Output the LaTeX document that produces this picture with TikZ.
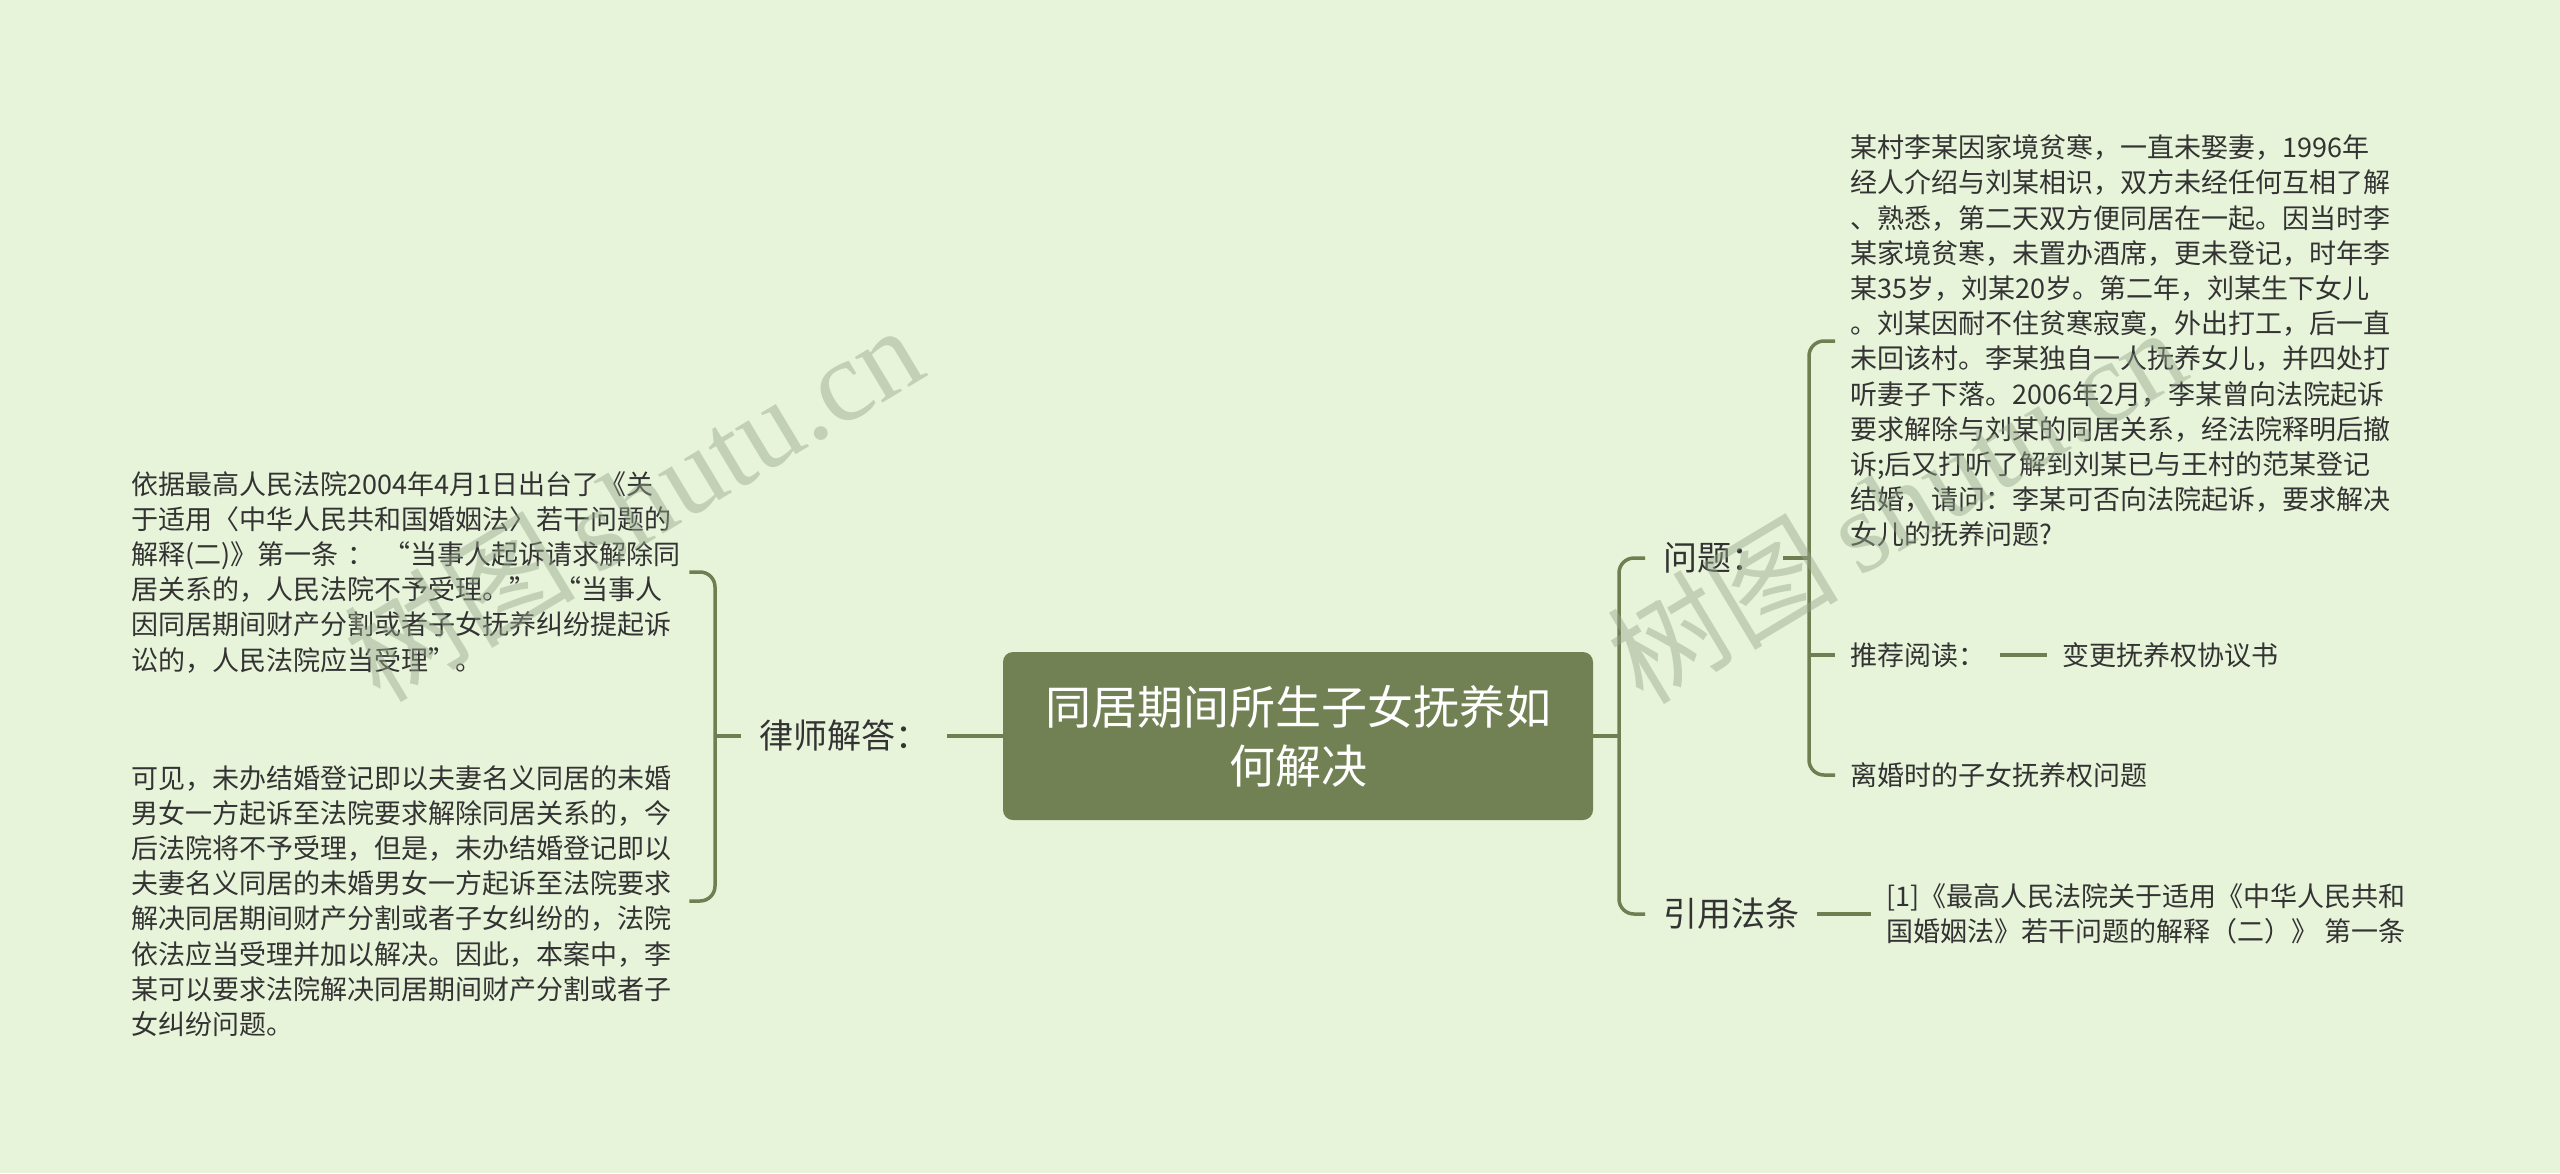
\documentclass[tikz,border=0pt]{standalone}
\usepackage{fontspec}
\setmainfont{Noto Sans CJK SC}
\newfontfamily\wmlatin{Liberation Serif}
\definecolor{bg}{HTML}{E7F4DA}
\definecolor{olive}{HTML}{728154}
\definecolor{lineol}{HTML}{6F7F52}
\definecolor{txt}{HTML}{333333}
\definecolor{wmc}{RGB}{150,165,140}
\begin{document}
\begin{tikzpicture}[x=1pt,y=-1pt,
  conn/.style={draw=lineol, line width=3.5pt, rounded corners=15pt},
  body/.style={font=\fontsize{27}{35.2}\selectfont, text=txt, align=left, inner ysep=0pt},
  leaf/.style={body, inner xsep=15pt, anchor=west},
  lab/.style={font=\fontsize{34}{40}\selectfont, text=txt, inner xsep=18pt, inner ysep=0pt, anchor=west},
  rootbox/.style={fill=olive, rounded corners=10pt, minimum width=590pt, minimum height=168pt,
    text=white, align=center, font=\fontsize{46}{59}\selectfont, inner sep=0pt},
  wm/.style={text=wmc, opacity=0.45, font=\fontsize{116}{116}\selectfont, inner sep=0pt, anchor=base west, rotate=31}]
\fill[bg] (0,0) rectangle (2560,1173);
\useasboundingbox (0,0) rectangle (2560,1173);

% root
\node[rootbox] (root) at (1298,736) {同居期间所生子女抚养如\\何解决};

% left branch
\node[lab] (lawyer) at (741,736) {律师解答：};
\node[body, text width=558pt, inner xsep=0pt, anchor=west] (a1) at (131,572)
 {依据最高人民法院2004年4月1日出台了《关\\
  于适用〈中华人民共和国婚姻法〉若干问题的\\
  解释(二)》第一条 ： “当事人起诉请求解除同\\
  居关系的，人民法院不予受理。”\ \ “当事人\\
  因同居期间财产分割或者子女抚养纠纷提起诉\\
  讼的，人民法院应当受理”。};
\node[body, text width=558pt, inner xsep=0pt, anchor=west] (a2) at (131,901)
 {可见，未办结婚登记即以夫妻名义同居的未婚\\
  男女一方起诉至法院要求解除同居关系的，今\\
  后法院将不予受理，但是，未办结婚登记即以\\
  夫妻名义同居的未婚男女一方起诉至法院要求\\
  解决同居期间财产分割或者子女纠纷的，法院\\
  依法应当受理并加以解决。因此，本案中，李\\
  某可以要求法院解决同居期间财产分割或者子\\
  女纠纷问题。};
\coordinate (jl) at (715,736);
\draw[conn] (root.west) -- (lawyer.east);
\draw[conn] (lawyer.west) -- (jl);
\draw[conn] (a1.east) -- (715,572) -- (715,901) -- (a2.east);

% right branch
\node[lab] (q) at (1645,558) {问题：};
\node[lab] (cite) at (1645,914) {引用法条};
\coordinate (jr) at (1619,736);
\draw[conn] (root.east) -- (jr);
\draw[conn] (q.west) -- (1619,558) -- (1619,914) -- (cite.west);

\node[leaf] (prob) at (1835,341)
 {某村李某因家境贫寒，一直未娶妻，1996年\\
  经人介绍与刘某相识，双方未经任何互相了解\\
  、熟悉，第二天双方便同居在一起。因当时李\\
  某家境贫寒，未置办酒席，更未登记，时年李\\
  某35岁，刘某20岁。第二年，刘某生下女儿\\
  。刘某因耐不住贫寒寂寞，外出打工，后一直\\
  未回该村。李某独自一人抚养女儿，并四处打\\
  听妻子下落。2006年2月，李某曾向法院起诉\\
  要求解除与刘某的同居关系，经法院释明后撤\\
  诉;后又打听了解到刘某已与王村的范某登记\\
  结婚，请问：李某可否向法院起诉，要求解决\\
  女儿的抚养问题?};
\node[leaf] (rec) at (1835,655) {推荐阅读：};
\node[leaf] (chg) at (2047,655) {变更抚养权协议书};
\node[leaf] (div) at (1835,775) {离婚时的子女抚养权问题};
\coordinate (jq) at (1809,558);
\coordinate (jrec) at (1809,655);
\draw[conn] (q.east) -- (jq);
\draw[conn] (prob.west) -- (1809,341) -- (1809,775) -- (div.west);
\draw[conn] (jrec) -- (rec.west);
\draw[conn] (rec.east) -- (chg.west);

\node[leaf] (citetxt) at (1871,914)
 {[1]《最高人民法院关于适用《中华人民共和\\
  国婚姻法》若干问题的解释（二）》 第一条};
\draw[conn] (cite.east) -- (citetxt.west);

% watermarks
\node[wm] (wm1) at (380,705) {树图\hspace{20pt}{\wmlatin shutu.cn}};
\node[wm] (wm2) at (1643,707) {树图\hspace{20pt}{\wmlatin shutu.cn}};
\end{tikzpicture}
\end{document}
